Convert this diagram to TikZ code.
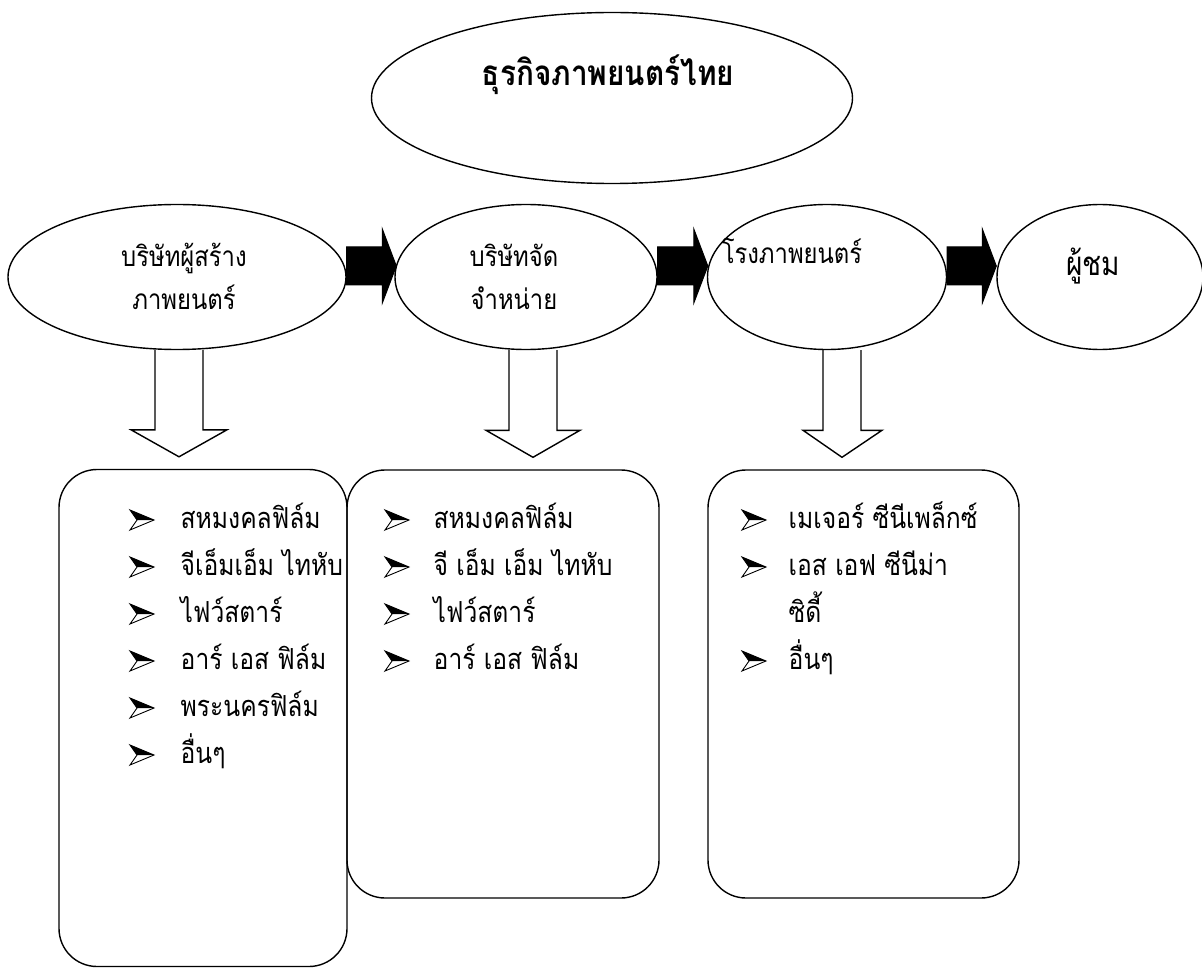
\documentclass[tikz,border=0pt]{standalone}
\usepackage{fontspec}
\usetikzlibrary{shapes.geometric,calc}
\newfontfamily\thai[Script=Thai,FakeStretch=0.85]{Loma}
\begin{document}
\begin{tikzpicture}[x=1pt,y=-1pt,line width=1.4pt,
  ell/.style={ellipse,draw,inner sep=0pt},
  lbl/.style={font=\thai\fontsize{28}{32}\selectfont,inner sep=0pt,anchor=base},
  item/.style={font=\thai\fontsize{29}{34}\selectfont,inner sep=0pt,anchor=base west},
  boxx/.style={draw,rounded corners=38pt,inner sep=0pt},
  blk/.style={fill=black,draw=black,line width=1pt,line join=miter},
  hol/.style={draw=black,line width=1.4pt,line join=miter},
  thbul/.pic={
    \fill[black] (0,-10) -- (24,0) -- (7,0) -- cycle;
    \draw[black,line width=0.9pt,line join=miter] (0,-10) -- (24,0) -- (0,10) -- (7,0) -- cycle;
  }]
\useasboundingbox (0,0) rectangle (1202,968);

% ellipses
\node[ell,minimum width=481pt,minimum height=171pt] (T) at (612,98) {};
\node[ell,minimum width=338pt,minimum height=145pt] (E1) at (177,277) {};
\node[ell,minimum width=262pt,minimum height=145pt] (E2) at (526,277) {};
\node[ell,minimum width=239pt,minimum height=145pt] (E3) at (827,277) {};
\node[ell,minimum width=206pt,minimum height=145pt] (E4) at (1100,277) {};

% labels
\node[lbl,font=\thai\bfseries\fontsize{35}{40}\selectfont] (tT) at (608,86) {ธุรกิจภาพยนตร์ไทย};
\node[lbl] (t1a) at (184,267) {บริษัทผู้สร้าง};
\node[lbl] (t1b) at (184,309) {ภาพยนตร์};
\node[lbl] (t2a) at (514,267) {บริษัทจัด};
\node[lbl] (t2b) at (514,309) {จำหน่าย};
\node[lbl] (t3) at (792,264) {โรงภาพยนตร์};
\node[lbl,font=\thai\fontsize{33}{36}\selectfont] (t4) at (1093,276) {ผู้ชม};

% boxes
\node[boxx,minimum width=288pt,minimum height=497pt] (B1) at (203,718) {};
\node[boxx,minimum width=312pt,minimum height=428pt] (B2) at (503,684) {};
\node[boxx,minimum width=311pt,minimum height=428pt] (B3) at (863.5,684) {};

% black arrows
\coordinate (h1) at ($(E2.west)+(2,-11)$);
\coordinate (h2) at ($(E3.west)+(1,-11)$);
\coordinate (h3) at ($(E4.west)+(0,-11)$);
\draw[blk] ($(E1.east)+(0,-30)$) -- ($(h1)+(-14,-19)$) -- ($(h1)+(-14,-37)$) -- (h1)
  -- ($(h1)+(-14,37)$) -- ($(h1)+(-14,19)$) -- ($(E1.east)+(0,8)$) -- cycle;
\draw[blk] ($(E2.east)+(0,-30)$) -- ($(h2)+(-14,-19)$) -- ($(h2)+(-14,-37)$) -- (h2)
  -- ($(h2)+(-14,37)$) -- ($(h2)+(-14,19)$) -- ($(E2.east)+(0,8)$) -- cycle;
\draw[blk] ($(E3.east)+(0,-30)$) -- ($(h3)+(-14,-19)$) -- ($(h3)+(-14,-37)$) -- (h3)
  -- ($(h3)+(-14,37)$) -- ($(h3)+(-14,19)$) -- ($(E3.east)+(0,8)$) -- cycle;

% hollow down arrows
\coordinate (d1) at ($(E1.south)+(2,0)$);
\coordinate (d2) at ($(E2.south)+(7,0)$);
\coordinate (d3) at ($(E3.south)+(15,0)$);
\coordinate (p1) at ($(d1 |- B1.north)+(0,-12)$);
\coordinate (p2) at ($(d2 |- B2.north)+(0,-12)$);
\coordinate (p3) at ($(d3 |- B3.north)+(0,-12)$);
\draw[hol] ($(d1)+(-24,0)$) -- ($(p1)+(-24,-27)$) -- ($(p1)+(-48,-27)$) -- (p1)
  -- ($(p1)+(48,-27)$) -- ($(p1)+(24,-27)$) -- ($(d1)+(24,0)$);
\draw[hol] ($(d2)+(-24,0)$) -- ($(p2)+(-24,-27)$) -- ($(p2)+(-47,-27)$) -- (p2)
  -- ($(p2)+(47,-27)$) -- ($(p2)+(24,-27)$) -- ($(d2)+(24,0)$);
\draw[hol] ($(d3)+(-19,0)$) -- ($(p3)+(-19,-27)$) -- ($(p3)+(-39,-27)$) -- (p3)
  -- ($(p3)+(40,-27)$) -- ($(p3)+(19,-27)$) -- ($(d3)+(19,0)$);

% list 1
\foreach \t [count=\i] in {สหมงคลฟิล์ม,จีเอ็มเอ็ม ไทหับ,ไฟว์สตาร์,อาร์ เอส ฟิล์ม,พระนครฟิล์ม,อื่นๆ}{
  \pic at (130,{473+47*\i}) {thbul};
  \node[item] (x\i) at (180,{481+47*\i}) {\t};
}
% list 2
\foreach \t [count=\i] in {สหมงคลฟิล์ม,จี เอ็ม เอ็ม ไทหับ,ไฟว์สตาร์,อาร์ เอส ฟิล์ม}{
  \pic at (385,{473+47*\i}) {thbul};
  \node[item] (y\i) at (433,{481+47*\i}) {\t};
}
% list 3
\pic at (742,520) {thbul};
\node[item] (z1) at (788,528) {เมเจอร์ ซีนีเพล็กซ์};
\pic at (742,567) {thbul};
\node[item] (z2) at (788,575) {เอส เอฟ ซีนีม่า};
\node[item] (z3) at (788,622) {ซิดี้};
\pic at (742,661) {thbul};
\node[item] (z4) at (788,669) {อื่นๆ};
\end{tikzpicture}
\end{document}
